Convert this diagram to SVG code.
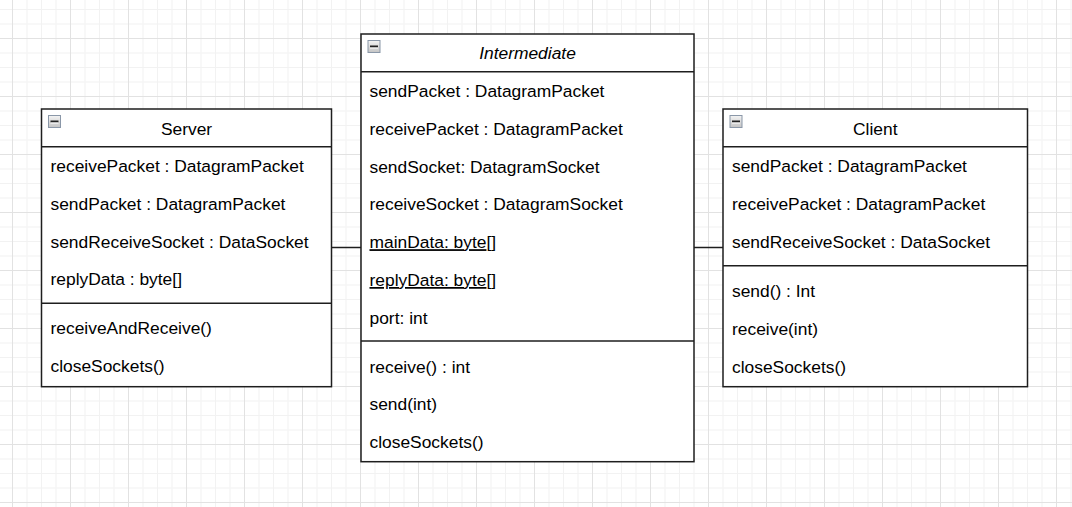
<svg xmlns="http://www.w3.org/2000/svg" width="1072" height="507" viewBox="0 0 1072 507">
  <style>
    .box { fill: #ffffff; stroke: #1e1e1e; stroke-width: 1.5; }
    .sep { stroke: #1e1e1e; stroke-width: 1.5; fill: none; }
    .edge { stroke: #1e1e1e; stroke-width: 1.5; fill: none; }
    .t { font-family: "Liberation Sans", Arial, Helvetica, sans-serif; font-size: 17.4px; fill: #000000; }
    .title { text-anchor: middle; }
    .it { font-style: italic; }
    .u { text-decoration: underline; }
  </style>
  <defs>
    <pattern id="grid" patternUnits="userSpaceOnUse" x="12" y="38" width="58" height="58">
      <rect x="14.5" y="0" width="1" height="58" fill="#f2f2f2"/>
      <rect x="29" y="0" width="1" height="58" fill="#f2f2f2"/>
      <rect x="43.5" y="0" width="1" height="58" fill="#f2f2f2"/>
      <rect x="0" y="14.5" width="58" height="1" fill="#f2f2f2"/>
      <rect x="0" y="29" width="58" height="1" fill="#f2f2f2"/>
      <rect x="0" y="43.5" width="58" height="1" fill="#f2f2f2"/>
      <rect x="0" y="0" width="1" height="58" fill="#e2e2e2"/>
      <rect x="0" y="0" width="58" height="1" fill="#e2e2e2"/>
    </pattern>
    <linearGradient id="iconFill" x1="0" y1="0" x2="0" y2="1">
      <stop offset="0" stop-color="#f4f4f4"/>
      <stop offset="1" stop-color="#c4c4c4"/>
    </linearGradient>
    <g id="collapse">
      <rect x="0.5" y="0.5" width="12" height="12" fill="url(#iconFill)" stroke="#8a97a8" stroke-width="1"/>
      <rect x="2.5" y="5.5" width="8" height="2" fill="#222222"/>
      <rect x="2.5" y="7.5" width="8" height="1" fill="#ffffff"/>
    </g>
  </defs>

  <rect x="0" y="0" width="1072" height="507" fill="#ffffff"/>
  <rect x="0" y="0" width="1072" height="507" fill="url(#grid)"/>

  <g id="connectors">
    <line class="edge" x1="331.5" y1="247.5" x2="361" y2="247.5"/>
    <line class="edge" x1="694" y1="247.5" x2="723" y2="247.5"/>
  </g>

  <g id="server">
    <rect class="box" x="41.5" y="109" width="290" height="277.7"/>
    <line class="sep" x1="41.5" y1="146.7" x2="331.5" y2="146.7"/>
    <line class="sep" x1="41.5" y1="303.3" x2="331.5" y2="303.3"/>
    <use href="#collapse" x="48" y="115"/>
    <text class="t title" x="186.5" y="135">Server</text>
    <text class="t" x="50.5" y="172">receivePacket : DatagramPacket</text>
    <text class="t" x="50.5" y="209.8">sendPacket : DatagramPacket</text>
    <text class="t" x="50.5" y="247.6">sendReceiveSocket : DataSocket</text>
    <text class="t" x="50.5" y="285.4">replyData : byte[]</text>
    <text class="t" x="50.5" y="334.4">receiveAndReceive()</text>
    <text class="t" x="50.5" y="372.2">closeSockets()</text>
  </g>

  <g id="intermediate">
    <rect class="box" x="361" y="34" width="333" height="427.7"/>
    <line class="sep" x1="361" y1="71.7" x2="694" y2="71.7"/>
    <line class="sep" x1="361" y1="341" x2="694" y2="341"/>
    <use href="#collapse" x="367.5" y="40"/>
    <text class="t title it" x="527.5" y="59">Intermediate</text>
    <text class="t" x="369.5" y="97">sendPacket : DatagramPacket</text>
    <text class="t" x="369.5" y="134.8">receivePacket : DatagramPacket</text>
    <text class="t" x="369.5" y="172.6">sendSocket: DatagramSocket</text>
    <text class="t" x="369.5" y="210.4">receiveSocket : DatagramSocket</text>
    <text class="t" x="369.5" y="248.2"><tspan class="u">mainData: byte</tspan>[]</text>
    <text class="t" x="369.5" y="286"><tspan class="u">replyData: byte</tspan>[]</text>
    <text class="t" x="369.5" y="323.8">port: int</text>
    <text class="t" x="369.5" y="372.5">receive() : int</text>
    <text class="t" x="369.5" y="410.3">send(int)</text>
    <text class="t" x="369.5" y="448.1">closeSockets()</text>
  </g>

  <g id="client">
    <rect class="box" x="723" y="109" width="304.5" height="277.7"/>
    <line class="sep" x1="723" y1="146.7" x2="1027.5" y2="146.7"/>
    <line class="sep" x1="723" y1="265.7" x2="1027.5" y2="265.7"/>
    <use href="#collapse" x="729.5" y="115"/>
    <text class="t title" x="875.3" y="135">Client</text>
    <text class="t" x="732" y="172">sendPacket : DatagramPacket</text>
    <text class="t" x="732" y="209.8">receivePacket : DatagramPacket</text>
    <text class="t" x="732" y="247.6">sendReceiveSocket : DataSocket</text>
    <text class="t" x="732" y="297">send() : Int</text>
    <text class="t" x="732" y="334.8">receive(int)</text>
    <text class="t" x="732" y="372.6">closeSockets()</text>
  </g>
</svg>
